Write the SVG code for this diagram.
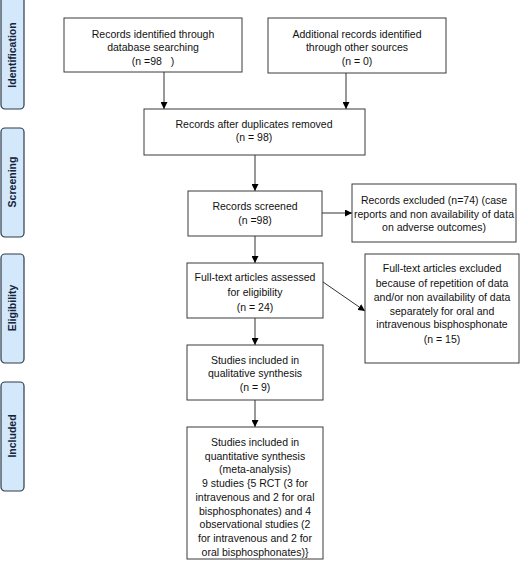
<svg xmlns="http://www.w3.org/2000/svg" width="528" height="562" viewBox="0 0 528 562">
<defs>
<style>
.box{fill:#fff;stroke:#3a3a3a;stroke-width:1}
.tab{fill:#d4e8fb;stroke:#2d3a4a;stroke-width:1.2}
.t{font-family:"Liberation Sans",Arial,sans-serif;font-size:10.5px;fill:#111;text-anchor:middle}
.tl{font-family:"Liberation Sans",Arial,sans-serif;font-size:10.5px;font-weight:bold;fill:#14243a;text-anchor:middle}
.c{stroke:#333;stroke-width:1;fill:none;marker-end:url(#ah)}
</style>
<marker id="ah" viewBox="0 0 8 8" refX="8" refY="4" markerWidth="7" markerHeight="7" markerUnits="userSpaceOnUse" orient="auto">
<path d="M0,0 L8,4 L0,8 Z" fill="#000"/>
</marker>
</defs>
<rect width="528" height="562" fill="#fff"/>
<g id="tab-identification"><rect class="tab" x="1" y="-4" width="23" height="113" rx="4"/><text class="tl" transform="translate(16,55) rotate(-90)">Identification</text></g>
<g id="tab-screening"><rect class="tab" x="1" y="128" width="23" height="109" rx="4"/><text class="tl" transform="translate(16,182) rotate(-90)">Screening</text></g>
<g id="tab-eligibility"><rect class="tab" x="1" y="254" width="23" height="109" rx="4"/><text class="tl" transform="translate(16,308) rotate(-90)">Eligibility</text></g>
<g id="tab-included"><rect class="tab" x="1" y="382" width="23" height="109" rx="4"/><text class="tl" transform="translate(16,436) rotate(-90)">Included</text></g>

<g id="connectors">
<line class="c" x1="164" y1="72" x2="164" y2="109"/>
<line class="c" x1="346" y1="73" x2="346" y2="109"/>
<line class="c" x1="255" y1="155" x2="255" y2="191"/>
<line class="c" x1="322" y1="213" x2="352" y2="213"/>
<line class="c" x1="255" y1="236" x2="255" y2="263"/>
<line class="c" x1="323" y1="282" x2="365" y2="311"/>
<line class="c" x1="255" y1="318" x2="255" y2="345"/>
<line class="c" x1="255" y1="400" x2="255" y2="427"/>
</g>

<g id="n1"><rect class="box" x="64" y="18" width="178" height="54"/>
<text class="t" x="153" y="38">Records identified through</text>
<text class="t" x="153" y="51">database searching</text>
<text class="t" x="153" y="65" xml:space="preserve">(n =98   )</text></g>

<g id="n2"><rect class="box" x="268" y="18" width="178" height="55"/>
<text class="t" x="357" y="38">Additional records identified</text>
<text class="t" x="357" y="51">through other sources</text>
<text class="t" x="357" y="65">(n = 0)</text></g>

<g id="n3"><rect class="box" x="144" y="109" width="221" height="46"/>
<text class="t" x="254" y="128">Records after duplicates removed</text>
<text class="t" x="254" y="141">(n = 98)</text></g>

<g id="n4"><rect class="box" x="188" y="191" width="134" height="45"/>
<text class="t" x="255" y="210">Records screened</text>
<text class="t" x="255" y="224">(n =98)</text></g>

<g id="n5"><rect class="box" x="352" y="184" width="164" height="58"/>
<text class="t" x="434" y="204">Records excluded (n=74) (case</text>
<text class="t" x="434" y="218">reports and non availability of data</text>
<text class="t" x="434" y="231">on adverse outcomes)</text></g>

<g id="n6"><rect class="box" x="187" y="263" width="136" height="55"/>
<text class="t" x="255" y="281">Full-text articles assessed</text>
<text class="t" x="255" y="296">for eligibility</text>
<text class="t" x="255" y="311">(n = 24)</text></g>

<g id="n7"><rect class="box" x="365" y="254" width="154" height="109"/>
<text class="t" x="442" y="272">Full-text articles excluded</text>
<text class="t" x="442" y="287">because of repetition of data</text>
<text class="t" x="442" y="301">and/or non availability of data</text>
<text class="t" x="442" y="315">separately for oral and</text>
<text class="t" x="442" y="328">intravenous bisphosphonate</text>
<text class="t" x="442" y="343">(n = 15)</text></g>

<g id="n8"><rect class="box" x="187" y="345" width="136" height="55"/>
<text class="t" x="255" y="364">Studies included in</text>
<text class="t" x="255" y="377">qualitative synthesis</text>
<text class="t" x="255" y="391">(n = 9)</text></g>

<g id="n9"><rect class="box" x="187" y="427" width="136" height="132"/>
<text class="t" x="255" y="446">Studies included in</text>
<text class="t" x="255" y="460">quantitative synthesis</text>
<text class="t" x="255" y="473">(meta-analysis)</text>
<text class="t" x="255" y="487">9 studies {5 RCT (3 for</text>
<text class="t" x="255" y="501">intravenous and 2 for oral</text>
<text class="t" x="255" y="515">bisphosphonates) and 4</text>
<text class="t" x="255" y="528">observational studies (2</text>
<text class="t" x="255" y="542">for intravenous and 2 for</text>
<text class="t" x="255" y="556">oral bisphosphonates)}</text></g>
</svg>
